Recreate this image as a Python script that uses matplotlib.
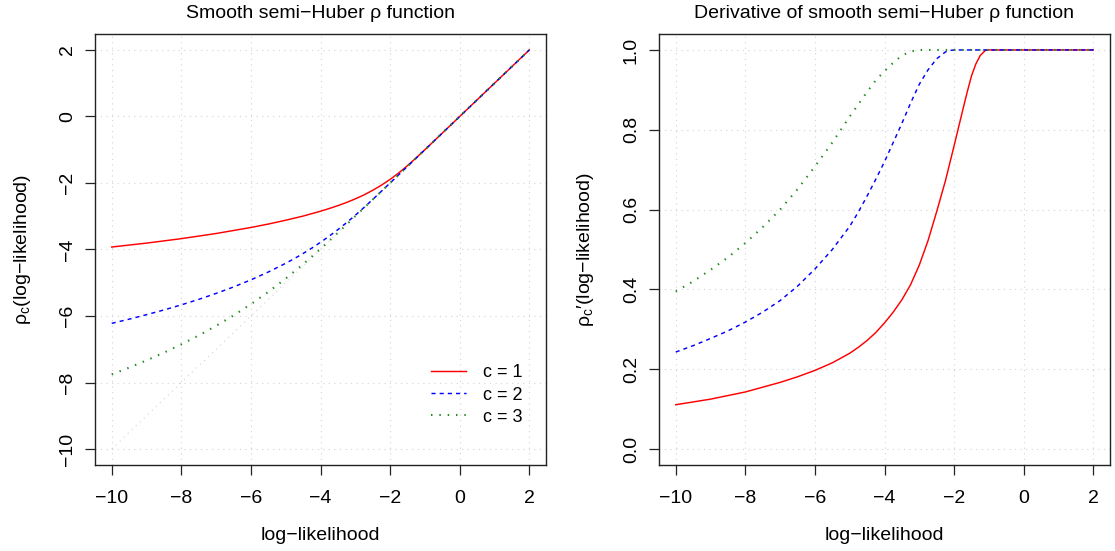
import matplotlib
matplotlib.use("Agg")
import matplotlib.pyplot as plt
from matplotlib.ticker import FixedLocator, FixedFormatter

plt.rcParams['font.family'] = ['Liberation Sans', 'DejaVu Sans']
plt.rcParams['mathtext.fontset'] = 'custom'
plt.rcParams['mathtext.rm'] = 'Liberation Sans'
plt.rcParams['mathtext.it'] = 'Liberation Sans:italic'
plt.rcParams['axes.unicode_minus'] = True

# ---------------- data ----------------
# left panel: smooth semi-Huber rho
x_rho_c1 = [-10, -9, -8, -7, -6, -5.5, -5, -4.5, -4, -3.75, -3.5, -3.25, -3, -2.75,
            -2.5, -2.25, -2, -1.75, -1.5, -1.25, -1, 0, 1, 2]
rho_c1 = [-3.926, -3.808, -3.674, -3.519, -3.338, -3.235, -3.12, -2.995, -2.849,
          -2.768, -2.681, -2.585, -2.478, -2.358, -2.221, -2.066, -1.892, -1.696,
          -1.478, -1.243, -1.0, 0.0, 1.0, 2.0]

x_rho_c2 = [-10, -9.5, -9, -8.5, -8, -7.5, -7, -6.5, -6, -5.5, -5, -4.75, -4.5, -4.25,
            -4, -3.75, -3.5, -3.25, -3, -2.75, -2.5, -2.25, -2, 0, 2]
rho_c2 = [-6.22, -6.095, -5.96, -5.818, -5.665, -5.50, -5.32, -5.127, -4.913, -4.677,
          -4.415, -4.273, -4.12, -3.958, -3.784, -3.599, -3.402, -3.192, -2.97,
          -2.737, -2.496, -2.249, -2.0, 0.0, 2.0]

x_rho_c3 = [-10, -9.5, -9, -8.5, -8, -7.5, -7, -6.5, -6, -5.5, -5, -4.5, -4.25, -4,
            -3.75, -3.5, -3.25, -3, 0, 2]
rho_c3 = [-7.755, -7.552, -7.334, -7.102, -6.853, -6.585, -6.296, -5.983, -5.644,
          -5.275, -4.874, -4.442, -4.215, -3.981, -3.742, -3.497, -3.25, -3.0,
          0.0, 2.0]

identity_x = [-10, 2]
identity_y = [-10, 2]

# right panel: derivative of rho
x_d_c1 = [-10, -9.5, -9, -8.5, -8, -7.5, -7, -6.5, -6, -5.5, -5, -4.75, -4.5, -4.25,
          -4, -3.75, -3.5, -3.25, -3, -2.75, -2.5, -2.25, -2, -1.75, -1.625, -1.5,
          -1.375, -1.25, -1.1, -1, 0, 1, 2]
d_c1 = [0.111, 0.118, 0.125, 0.134, 0.143, 0.155, 0.167, 0.181, 0.197, 0.216, 0.240,
        0.255, 0.272, 0.292, 0.316, 0.343, 0.374, 0.412, 0.461, 0.522, 0.595, 0.672,
        0.760, 0.850, 0.894, 0.935, 0.965, 0.986, 0.999, 1.0, 1.0, 1.0, 1.0]

x_d_c2 = [-10, -9.5, -9, -8.5, -8, -7.5, -7, -6.5, -6, -5.5, -5, -4.75, -4.5, -4.25, -4,
          -3.75, -3.5, -3.25, -3, -2.75, -2.5, -2.25, -2.1, -2, 0, 2]
d_c2 = [0.243, 0.259, 0.277, 0.296, 0.318, 0.343, 0.372, 0.408, 0.451, 0.500, 0.558,
        0.594, 0.634, 0.676, 0.720, 0.768, 0.816, 0.867, 0.914, 0.950, 0.978, 0.995,
        0.999, 1.0, 1.0, 1.0]

x_d_c3 = [-10, -9.5, -9, -8.5, -8, -7.5, -7, -6.5, -6, -5.5, -5, -4.5, -4.25, -4, -3.75,
          -3.5, -3.25, -3.1, -3, 0, 2]
d_c3 = [0.395, 0.420, 0.449, 0.480, 0.516, 0.556, 0.600, 0.651, 0.708, 0.768, 0.833,
        0.895, 0.924, 0.947, 0.968, 0.986, 0.996, 0.999, 1.0, 1.0, 1.0]

legend_labels = ["c = 1", "c = 2", "c = 3"]
x_ticks = [-10, -8, -6, -4, -2, 0, 2]
y_ticks_left = [-10, -8, -6, -4, -2, 0, 2]
y_ticks_right = [0.0, 0.2, 0.4, 0.6, 0.8, 1.0]
y_ticklabels_right = ["0.0", "0.2", "0.4", "0.6", "0.8", "1.0"]

titles = ["Smooth semi\u2212Huber \u03c1 function",
          "Derivative of smooth semi\u2212Huber \u03c1 function"]
xlabel = "log\u2212likelihood"
ylabels = ["\u03c1$_{\\mathrm{c}}$(log\u2212likelihood)",
           "\u03c1$_{\\mathrm{c}}$\u2032(log\u2212likelihood)"]

# ---------------- styling ----------------
W, H, DPI = 1115, 551, 100
FS = 14
col1, col2, col3 = "#ff0000", "#0000ff", "#228b22"
grid_col = "#d3d3d3"
lw = 1.05

fig = plt.figure(figsize=(W / DPI, H / DPI), dpi=DPI)
axL = fig.add_axes([95 / W, (H - 465) / H, 451 / W, 431 / H])
axR = fig.add_axes([659 / W, (H - 465) / H, 451 / W, 431 / H])


def style(ax, yticks, ylim, yticklabels=None):
    ax.set_xlim(-10.48, 2.48)
    ax.set_ylim(*ylim)
    ax.xaxis.set_major_locator(FixedLocator(x_ticks))
    ax.yaxis.set_major_locator(FixedLocator(yticks))
    if yticklabels is not None:
        ax.yaxis.set_major_formatter(FixedFormatter(yticklabels))
    ax.grid(True, color=grid_col, linestyle=(0, (1, 4)), linewidth=0.8, zorder=0)
    ax.set_axisbelow(True)
    for s in ax.spines.values():
        s.set_linewidth(1.0)
        s.set_color("#222222")
    ax.tick_params(axis="both", direction="out", length=7.2, width=0.9,
                   color="#222222", labelsize=FS)
    ax.tick_params(axis="x", pad=11)
    ax.tick_params(axis="y", pad=6.5, labelrotation=90)
    for lab in ax.get_yticklabels():
        lab.set_va("center")


style(axL, y_ticks_left, (-10.48, 2.48))
style(axR, y_ticks_right, (-0.04, 1.04), y_ticklabels_right)

# left panel
axL.plot(identity_x, identity_y, color=grid_col, linestyle=(0, (1, 4)), linewidth=0.8,
         zorder=1)
hL1, = axL.plot(x_rho_c1, rho_c1, color=col1, linewidth=lw, zorder=3)
hL2, = axL.plot(x_rho_c2, rho_c2, color=col2, linewidth=lw, dashes=(2.8, 2.8), zorder=4)
hL3, = axL.plot(x_rho_c3, rho_c3, color=col3, linewidth=1.5, dashes=(0.7, 3.3), zorder=5)

# right panel
axR.plot(x_d_c1, d_c1, color=col1, linewidth=lw, zorder=3)
axR.plot(x_d_c2, d_c2, color=col2, linewidth=lw, dashes=(2.8, 2.8), zorder=4)
axR.plot(x_d_c3, d_c3, color=col3, linewidth=1.5, dashes=(0.7, 3.3), zorder=5)

leg = axL.legend([hL1, hL2, hL3], legend_labels, loc="center left",
                 bbox_to_anchor=(0.744, 0.1624), frameon=False, fontsize=13,
                 handlelength=1.95, handletextpad=0.95, labelspacing=0.28,
                 borderpad=0, borderaxespad=0)

for ax, t, yl in zip([axL, axR], titles, ylabels):
    ax.set_title(t, fontsize=FS, y=1 + 21 / 431, va="center", pad=0)
    ax.set_xlabel(xlabel, fontsize=FS, va="center")
    ax.xaxis.set_label_coords(0.5, -(536 - 465) / 431)
    ax.set_ylabel(yl, fontsize=FS, va="center")

axL.yaxis.set_label_coords((22.5 - 95) / 451, 0.5)
axR.yaxis.set_label_coords((585.5 - 659) / 451, 0.5)

fig.savefig("out.png", dpi=DPI)
